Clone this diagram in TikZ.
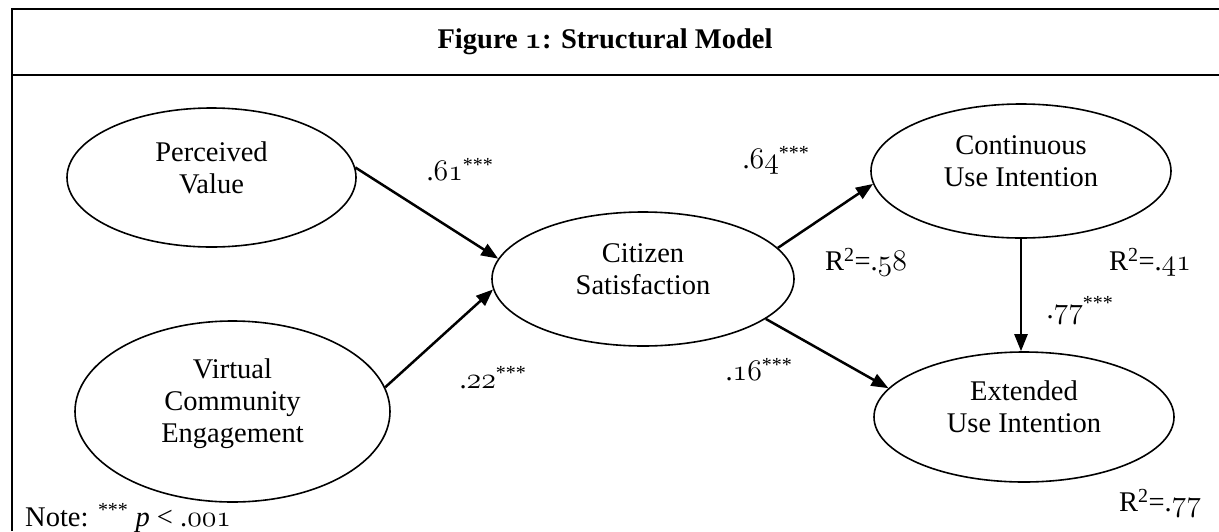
\documentclass[tikz,border=0pt]{standalone}
\usepackage{fontspec}
\usepackage{graphicx}
\setmainfont{Liberation Serif}
\usetikzlibrary{shapes.geometric,arrows.meta}
% old-style figures taken from the math italic font, enlarged to suit the text face
\newcommand\osn[1]{\scalebox{1.2}{\fontencoding{OML}\fontfamily{cmm}\fontseries{m}\fontshape{it}\selectfont #1}}
\newcommand\osnb[1]{\scalebox{1.2}{\fontencoding{OML}\fontfamily{cmm}\fontseries{b}\fontshape{it}\selectfont #1}}
\newcommand\sig{\textsuperscript{***}}
\newcommand\rsq{R\textsuperscript{2}=}
\begin{document}
\begin{tikzpicture}[x=1pt,y=-1pt,
  every node/.style={font=\fontsize{28.5}{32}\selectfont, inner sep=0pt},
  ell/.style={draw, ellipse, line width=1.6pt, inner sep=0pt},
  inner/.style={align=center, yshift=10pt},
  conn/.style={line width=2.5pt, -{Triangle[length=17pt,width=13pt]}},
  frame/.style={line width=2.7pt}]
\useasboundingbox (0,0) rectangle (1219,531);

% table frame and title row
\draw[frame] (12,531) -- (12,9) -- (1219,9);
\draw[frame] (12,75) -- (1219,75);
\node[font=\fontsize{28.5}{32}\selectfont\bfseries] (title) at (605,42) {Figure \osnb{1}: Structural Model};

% constructs
\node[ell, minimum width=289pt, minimum height=139pt,
      label={[inner]center:{Perceived\\Value}}] (pv) at (211.5,177.5) {};
\node[ell, minimum width=315pt, minimum height=181pt,
      label={[inner, yshift=-2pt]center:{Virtual\\Community\\Engagement}}] (vce) at (232.5,411.5) {};
\node[ell, minimum width=302pt, minimum height=134pt,
      label={[inner]center:{Citizen\\Satisfaction}}] (cs) at (643,279) {};
\node[ell, minimum width=300pt, minimum height=134pt,
      label={[inner]center:{Continuous\\Use Intention}}] (cui) at (1021,171) {};
\node[ell, minimum width=300pt, minimum height=130pt,
      label={[inner]center:{Extended\\Use Intention}}] (eui) at (1024,417) {};

% paths
\draw[conn] (pv.4) -- (cs.172);
\draw[conn] (vce.9) -- (cs.184);
\draw[conn] (cs.13) -- (cui.185);
\draw[conn] (cs.-18) -- (eui.168);
\draw[conn] (cui.south) -- (cui.south |- eui.north);

% coefficients and explained variance
\node (b61) at (460,170) {.\osn{61}\sig};
\node (b22) at (493,378) {.\osn{22}\sig};
\node (b64) at (776,160) {.\osn{64}\sig};
\node (b16) at (759,370) {.\osn{16}\sig};
\node (b77) at (1080,310) {.\osn{77}\sig};
\node (r58) at (866,262) {\rsq.\osn{58}};
\node (r41) at (1150,262) {\rsq.\osn{41}};
\node (r77) at (1160,503) {\rsq.\osn{77}};

% footnote
\node[anchor=west] (note) at (25,518) {Note: \sig\ \textit{p} < .\osn{001}};
\end{tikzpicture}
\end{document}
